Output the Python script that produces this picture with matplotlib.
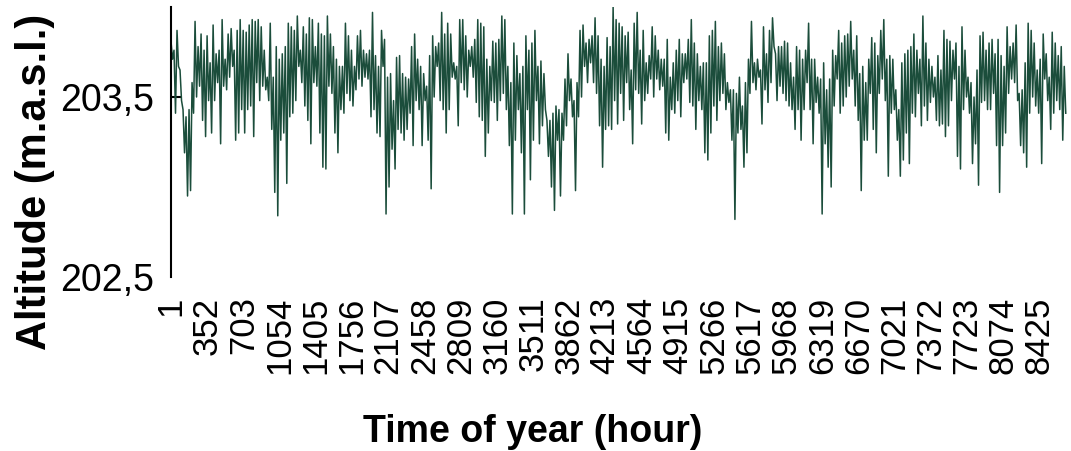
import numpy as np
import matplotlib.pyplot as plt

plt.rcParams['font.family'] = ['Liberation Sans', 'DejaVu Sans']

# ====== DATA (hourly water level, read as local highs / lows) ======
upper = [
    # hours ~1-670
    203.81, 203.76, 203.87, 203.65, 203.43, 203.39, 203.43, 203.58, 203.92, 203.78, 203.85, 203.76,
    203.84, 203.69, 203.90, 203.74, 203.76, 203.93, 203.71, 203.85, 203.88, 203.76, 203.87,
    # ~670-1410
    203.93, 203.87, 203.86, 203.90, 203.93, 203.92, 203.93, 203.89, 203.76, 203.61, 203.91, 203.61,
    203.78, 203.71, 203.74, 203.78, 203.91, 203.89, 203.87, 203.95, 203.76, 203.89, 203.85, 203.94, 203.93,
    # ~1410-2140
    203.78, 203.91, 203.85, 203.84, 203.95, 203.85, 203.78, 203.71, 203.67, 203.67, 203.91, 203.84,
    203.76, 203.67, 203.84, 203.87, 203.76, 203.74, 203.76, 203.97, 203.73, 203.67, 203.87, 203.82, 203.61,
    # ~2140-2880
    203.63, 203.48, 203.72, 203.73, 203.63, 203.61, 203.60, 203.78, 203.85, 203.71, 203.67, 203.63,
    203.56, 203.73, 203.84, 203.78, 203.80, 203.97, 203.85, 203.91, 203.85, 203.69, 203.67, 203.93, 203.93,
    # ~2880-3620
    203.84, 203.76, 203.78, 203.82, 203.93, 203.91, 203.89, 203.71, 203.67, 203.81, 203.80, 203.82,
    203.95, 203.93, 203.67, 203.58, 203.80, 203.73, 203.63, 203.67, 203.84, 203.76, 203.80, 203.87, 203.67,
    # ~3620-4350
    203.70, 203.63, 203.37, 203.37, 203.41, 203.45, 203.43, 203.41, 203.60, 203.74, 203.60, 203.48,
    203.58, 203.87, 203.90, 203.80, 203.82, 203.84, 203.94, 203.84, 203.71, 203.67, 203.83, 203.78, 204.00,
    # ~4350-5090
    203.93, 203.91, 203.89, 203.84, 203.86, 203.65, 203.91, 203.97, 203.76, 203.87, 203.69, 203.73,
    203.89, 203.84, 203.76, 203.71, 203.71, 203.82, 203.61, 203.69, 203.76, 203.82, 203.74, 203.74, 203.82,
    # ~5090-5820
    203.93, 203.80, 203.74, 203.67, 203.69, 203.69, 203.84, 203.87, 203.92, 203.78, 203.80, 203.74,
    203.58, 203.54, 203.54, 203.52, 203.61, 203.45, 203.58, 203.71, 203.92, 203.69, 203.71, 203.65, 203.89,
    # ~5820-6560
    203.74, 203.87, 203.94, 203.74, 203.78, 203.78, 203.81, 203.80, 203.69, 203.61, 203.78, 203.76,
    203.71, 203.76, 203.91, 203.71, 203.71, 203.61, 203.60, 203.69, 203.54, 203.60, 203.76, 203.73, 203.87,
    # ~6560-7290
    203.80, 203.84, 203.85, 203.92, 203.76, 203.84, 203.63, 203.67, 203.58, 203.71, 203.83, 203.80,
    203.73, 203.87, 203.93, 203.71, 203.73, 203.71, 203.54, 203.43, 203.69, 203.74, 203.76, 203.78, 203.85,
    # ~7290-8030
    203.76, 203.71, 203.95, 203.80, 203.71, 203.67, 203.61, 203.73, 203.65, 203.87, 203.82, 203.81,
    203.76, 203.80, 203.67, 203.89, 203.76, 203.61, 203.58, 203.50, 203.65, 203.84, 203.86, 203.76, 203.80,
    # ~8030-8680
    203.82, 203.74, 203.82, 203.73, 203.67, 203.89, 203.78, 203.80, 203.90, 203.52, 203.54, 203.69,
    203.91, 203.87, 203.80, 203.65, 203.71, 203.85, 203.74, 203.61, 203.86, 203.80, 203.73, 203.78, 203.67,
]

lower = [
    203.71, 203.41, 203.67, 203.48, 203.19, 202.95, 202.98, 203.41, 203.50, 203.56, 203.37, 203.28,
    203.48, 203.30, 203.48, 203.58, 203.24, 203.56, 203.54, 203.61, 203.67, 203.26, 203.30,

    203.43, 203.30, 203.43, 203.45, 203.28, 203.58, 203.48, 203.56, 203.54, 203.48, 203.32, 202.97,
    202.84, 203.26, 203.30, 203.02, 203.39, 203.41, 203.48, 203.67, 203.58, 203.45, 203.37, 203.24, 203.58,

    203.56, 203.30, 203.11, 203.10, 203.56, 203.52, 203.30, 203.19, 203.43, 203.41, 203.52, 203.48,
    203.45, 203.54, 203.60, 203.56, 203.61, 203.60, 203.39, 203.43, 203.30, 203.28, 203.67, 202.85, 203.00,

    203.21, 203.10, 203.32, 203.30, 203.26, 203.32, 203.41, 203.23, 203.48, 203.43, 203.23, 203.48,
    203.26, 202.99, 203.50, 203.67, 203.48, 203.43, 203.30, 203.43, 203.61, 203.60, 203.34, 203.58, 203.54,

    203.50, 203.67, 203.61, 203.47, 203.39, 203.37, 203.17, 203.30, 203.48, 203.47, 203.37, 203.48,
    203.52, 203.43, 203.23, 202.85, 203.26, 203.43, 203.19, 202.85, 203.43, 203.04, 203.26, 203.48, 203.24,

    203.34, 203.43, 203.17, 203.00, 202.87, 203.26, 202.95, 203.26, 203.34, 203.48, 203.39, 202.98,
    203.39, 203.50, 203.67, 203.58, 203.69, 203.58, 203.52, 203.34, 203.11, 203.32, 203.34, 203.32, 203.48,

    203.35, 203.52, 203.37, 203.58, 203.43, 203.24, 203.54, 203.52, 203.35, 203.48, 203.52, 203.60,
    203.50, 203.60, 203.54, 203.56, 203.30, 203.26, 203.43, 203.41, 203.48, 203.39, 203.58, 203.60, 203.47,

    203.45, 203.32, 203.48, 203.43, 203.19, 203.15, 203.30, 203.45, 203.37, 203.48, 203.52, 203.43,
    203.47, 203.26, 202.82, 203.30, 203.32, 203.11, 203.19, 203.52, 203.58, 203.54, 203.61, 203.35, 203.54,

    203.47, 203.58, 203.78, 203.48, 203.56, 203.52, 203.48, 203.45, 203.43, 203.32, 203.43, 203.26,
    203.43, 203.58, 203.43, 203.24, 203.47, 203.41, 202.85, 203.24, 203.11, 203.00, 203.45, 203.60, 203.41,

    203.45, 203.50, 203.56, 203.60, 203.45, 203.37, 202.98, 203.26, 203.26, 203.52, 203.32, 203.19,
    203.52, 203.60, 203.48, 203.06, 203.41, 203.43, 203.26, 203.06, 203.15, 203.30, 203.13, 203.41, 203.39,

    203.52, 203.34, 203.45, 203.37, 203.47, 203.50, 203.37, 203.34, 203.35, 203.28, 203.34, 203.48,
    203.60, 203.17, 203.10, 203.43, 203.50, 203.41, 203.13, 203.24, 203.01, 203.47, 203.48, 203.43, 203.43,

    203.52, 203.23, 202.97, 203.23, 203.30, 203.52, 203.60, 203.58, 203.48, 203.23, 203.19, 203.11,
    203.41, 203.50, 203.45, 203.41, 203.13, 203.60, 203.48, 203.32, 203.41, 203.48, 203.43, 203.26, 203.41,
]

last_hour_shown = 8680
tick_hours = list(range(1, 8761, 351))
y_ticks = [202.5, 203.5]
y_tick_labels = ["202,5", "203,5"]

# zigzag: high, low, high, low ... spread over the visible part of the year
altitude = np.column_stack([upper, lower]).ravel()
hours = np.linspace(1, last_hour_shown, len(altitude))

# ====== FIGURE ======
fig = plt.figure(figsize=(10.71, 4.51), dpi=100)
# plot area runs a little past the right edge of the picture
ax = fig.add_axes([171/1071, 1 - 277/451, (1074 - 171)/1071, (277 - 7)/451])

ax.plot(hours, altitude, color='#1b4d3b', linewidth=1.1)

ax.set_xlim(1, 8760)
ax.set_ylim(202.5, 204.0)
ax.set_xticks(tick_hours)
ax.set_xticklabels([str(h) for h in tick_hours], rotation=90, fontsize=25)
ax.set_yticks(y_ticks)
ax.set_yticklabels(y_tick_labels, fontsize=27)

for side in ['top', 'right', 'bottom']:
    ax.spines[side].set_visible(False)
ax.spines['left'].set_linewidth(1.5)
ax.tick_params(axis='x', length=0, pad=14)
ax.tick_params(axis='y', direction='in', length=7, width=1.5, pad=12)
ax.yaxis.get_major_ticks()[0].tick1line.set_visible(False)

fig.text(0.497, 0.042, "Time of year (hour)", ha='center', va='center',
         fontsize=27, fontweight='bold')
fig.text(0.033, 0.596, "Altitude (m.a.s.l.)", ha='center', va='center',
         rotation=90, fontsize=30, fontweight='bold')

fig.savefig("out.png", dpi=100)
